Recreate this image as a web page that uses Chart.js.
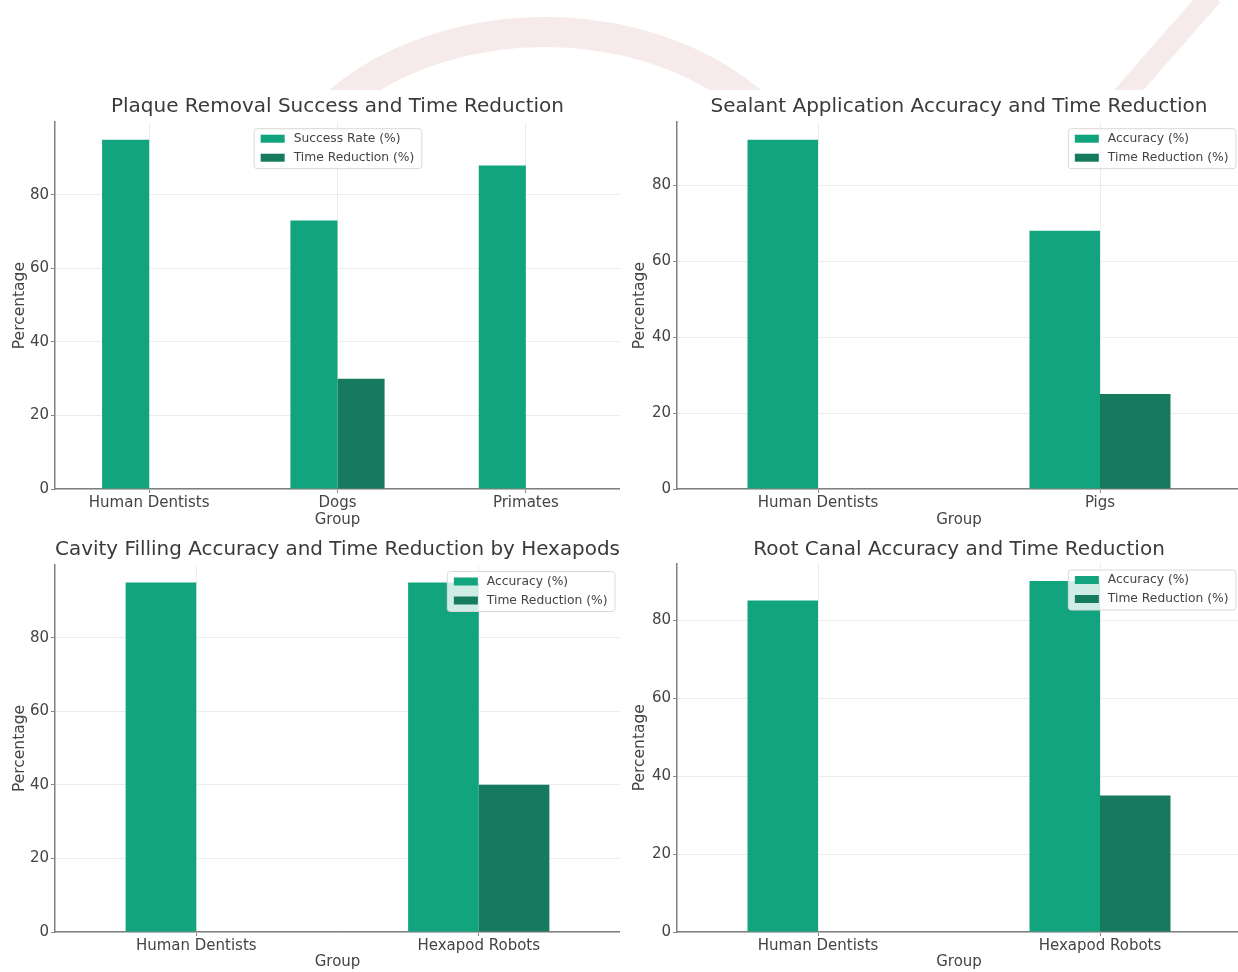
<!DOCTYPE html>
<html>
<head>
<meta charset="utf-8">
<script src="https://cdn.jsdelivr.net/npm/chart.js@4.4.1/dist/chart.umd.min.js"></script>
<style>
  html, body { margin: 0; padding: 0; background: #fff; overflow: hidden; }
  body { width: 1238px; height: 972px; position: relative; }
  canvas { position: absolute; }
  .plot { background: #fff; }
</style>
</head>
<body>
<canvas id="bg" width="1238" height="972" style="left:0px;top:0px"></canvas>
<canvas id="c1" class="plot" width="620" height="440" style="left:0px;top:90px"></canvas>
<canvas id="c2" class="plot" width="621" height="440" style="left:620px;top:90px"></canvas>
<canvas id="c3" class="plot" width="620" height="442" style="left:0px;top:530px"></canvas>
<canvas id="c4" class="plot" width="621" height="442" style="left:620px;top:530px"></canvas>
<script>
// values
const plaqueGroups = ['Human Dentists', 'Dogs', 'Primates'];
const plaqueSuccess = [95, 73, 88];
const plaqueTime = [0, 30, 0];

const sealantGroups = ['Human Dentists', 'Pigs'];
const sealantAccuracy = [92, 68];
const sealantTime = [0, 25];

const cavityGroups = ['Human Dentists', 'Hexapod Robots'];
const cavityAccuracy = [95, 95];
const cavityTime = [0, 40];

const rootGroups = ['Human Dentists', 'Hexapod Robots'];
const rootAccuracy = [85, 90];
const rootTime = [0, 35];

const yTicks = [0, 20, 40, 60, 80];

const green = '#12a37f';
const darkGreen = '#167a5f';
const FONT = 'DejaVu Sans';

// faint watermark behind the plots
const bg = document.getElementById('bg').getContext('2d');
bg.strokeStyle = 'rgba(215,160,160,0.22)';
bg.lineWidth = 30;
bg.beginPath();
bg.ellipse(545, 232, 272, 200, 0, Math.PI, 2 * Math.PI);
bg.stroke();
bg.lineWidth = 22;
bg.beginPath();
bg.moveTo(1212, -5);
bg.lineTo(1120, 100);
bg.stroke();

// legend drawn inside the plot area, like matplotlib
const insideLegend = {
  id: 'insideLegend',
  afterDraw(chart, args, opts) {
    const ctx = chart.ctx;
    const area = chart.chartArea;
    ctx.save();
    ctx.font = '12.3px "' + FONT + '"';
    const sets = chart.data.datasets;
    let tw = 0;
    sets.forEach(d => { tw = Math.max(tw, ctx.measureText(d.label).width); });
    const w = 40 + tw + 7;
    const h = 40;
    let x = opts.align === 'center' ? (area.left + area.right) / 2 - w / 2 : area.right - 5.5 - w;
    const y = area.top + 6;
    ctx.fillStyle = 'rgba(255,255,255,0.8)';
    ctx.strokeStyle = '#d9d9d9';
    ctx.lineWidth = 1;
    ctx.beginPath();
    ctx.roundRect(x + 0.5, y + 0.5, w, h, 3);
    ctx.fill();
    ctx.stroke();
    sets.forEach((d, i) => {
      const cy = y + 10.5 + i * 19;
      ctx.fillStyle = d.backgroundColor;
      ctx.fillRect(x + 7, cy - 4, 24, 8);
      ctx.fillStyle = '#444';
      ctx.textBaseline = 'middle';
      ctx.fillText(d.label, x + 40, cy);
    });
    ctx.restore();
  }
};

function makeChart(id, title, groups, first, firstLabel, second, yWidth, plotBottom, titlePad, legendAlign) {
  const el = document.getElementById(id);
  const yMax = Math.max(...first, ...second) * 1.05;
  return new Chart(el, {
    type: 'bar',
    data: {
      labels: groups,
      datasets: [
        { label: firstLabel, data: first, backgroundColor: green, categoryPercentage: 0.5, barPercentage: 1.0 },
        { label: 'Time Reduction (%)', data: second, backgroundColor: darkGreen, categoryPercentage: 0.5, barPercentage: 1.0 }
      ]
    },
    options: {
      responsive: false,
      animation: false,
      devicePixelRatio: 1,
      layout: { padding: 0 },
      plugins: {
        legend: { display: false },
        tooltip: { enabled: false },
        title: {
          display: true,
          fullSize: false,
          text: title,
          color: '#3a3a3a',
          font: { family: FONT, size: 20, weight: 'normal' },
          padding: titlePad
        },
        insideLegend: { align: legendAlign }
      },
      scales: {
        x: {
          offset: true,
          grid: { offset: false, color: '#ececec', tickLength: 4, tickColor: '#888' },
          border: { color: '#808080', width: 1.5 },
          ticks: { color: '#444', font: { family: FONT, size: 15 }, padding: 1, maxRotation: 0 },
          title: { display: true, text: 'Group', color: '#444', font: { family: FONT, size: 15 }, padding: { top: 0, bottom: 1 } },
          afterFit(scale) { scale.height = el.height - plotBottom; }
        },
        y: {
          min: 0,
          max: yMax,
          grid: { color: '#ececec', tickLength: 4, tickColor: '#888' },
          border: { color: '#808080', width: 1.5 },
          ticks: { color: '#444', font: { family: FONT, size: 15 }, padding: 2 },
          title: { display: true, text: 'Percentage', color: '#444', font: { family: FONT, size: 15.5 }, padding: { top: 11, bottom: 0 } },
          afterBuildTicks(scale) { scale.ticks = yTicks.map(v => ({ value: v })); },
          afterFit(scale) { scale.width = yWidth; }
        }
      }
    },
    plugins: [insideLegend]
  });
}

makeChart('c1', 'Plaque Removal Success and Time Reduction', plaqueGroups, plaqueSuccess, 'Success Rate (%)', plaqueTime,
  55, 399, { top: 5.2, bottom: 3 }, 'center');
makeChart('c2', 'Sealant Application Accuracy and Time Reduction', sealantGroups, sealantAccuracy, 'Accuracy (%)', sealantTime,
  57, 399, { top: 5.2, bottom: 3 }, 'right');
makeChart('c3', 'Cavity Filling Accuracy and Time Reduction by Hexapods', cavityGroups, cavityAccuracy, 'Accuracy (%)', cavityTime,
  55, 402, { top: 8, bottom: 3 }, 'right');
makeChart('c4', 'Root Canal Accuracy and Time Reduction', rootGroups, rootAccuracy, 'Accuracy (%)', rootTime,
  57, 402, { top: 8, bottom: 1.5 }, 'right');
</script>
</body>
</html>
